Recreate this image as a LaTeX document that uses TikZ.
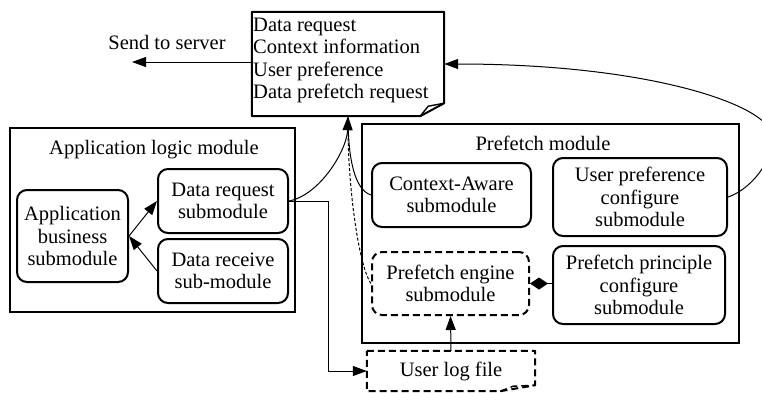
\documentclass[tikz,border=0pt]{standalone}
\usepackage{fontspec}
\setmainfont{Liberation Serif}
\usetikzlibrary{arrows.meta}
\begin{document}
\begin{tikzpicture}[x=1pt,y=-1pt,
  font=\fontsize{20.5}{22.5}\selectfont,
  module/.style={draw,line width=2pt,inner sep=0pt},
  sub/.style={draw,line width=2pt,rounded corners=10pt,align=center,inner sep=0pt},
  dsub/.style={sub,dash pattern=on 7pt off 4pt},
  plain/.style={inner sep=0pt},
  conn/.style={line width=1pt},
  tip/.style={-{Triangle[length=14pt,width=10pt]}},
  finedash/.style={dash pattern=on 3pt off 2pt},
]
\useasboundingbox (0,0) rectangle (762,392);

% modules
\node[module,minimum width=285pt,minimum height=184pt] (app) at (152.5,220) {};
\node[plain] (apptitle) at (154,150) {Application logic module};
\node[module,minimum width=377pt,minimum height=219pt] (pref) at (550.5,233.5) {};
\node[plain] (preftitle) at (543,143) {Prefetch module};

% submodules
\node[sub,minimum width=111pt,minimum height=92pt] (appbiz) at (72.5,236) {Application\\business\\submodule};
\node[sub,minimum width=130pt,minimum height=64pt] (dreq) at (223,201) {Data request\\submodule};
\node[sub,minimum width=130pt,minimum height=64pt] (drec) at (223,271) {Data receive\\sub-module};
\node[sub,minimum width=159pt,minimum height=64pt] (ctx) at (451.5,195) {Context-Aware\\submodule};
\node[sub,minimum width=174pt,minimum height=78pt] (upc) at (640,197) {User preference\\configure\\submodule};
\node[dsub,minimum width=157pt,minimum height=63pt] (eng) at (450.5,283.5) {Prefetch engine\\submodule};
\node[sub,minimum width=172pt,minimum height=78pt] (ppc) at (639,285) {Prefetch principle\\configure\\submodule};

% note (message) box
\node[plain,minimum width=192pt,minimum height=104pt] (note) at (348,64) {};
\draw[line width=2pt,line join=round]
  (note.north west) -- (note.north east) -- ([yshift=13pt]note.south east)
  -- ([xshift=-24pt]note.south east) -- (note.south west) -- cycle;
\draw[line width=1.4pt,line join=round]
  ([xshift=-24pt]note.south east) -- ([xshift=-16pt,yshift=10pt]note.south east)
  -- ([yshift=13pt]note.south east);
\node[plain,anchor=north west,align=left] (notetext) at (253,17.5)
  {Data request\\Context information\\User preference\\Data prefetch request};

% user log file
\node[plain,minimum width=168pt,minimum height=40pt] (log) at (451,371) {User log file};
\draw[line width=2pt,dash pattern=on 7pt off 4pt,line join=round]
  (log.north west) -- (log.north east) -- ([yshift=6pt]log.south east)
  -- ([xshift=-35pt]log.south east) -- (log.south west) -- cycle;
\draw[line width=1.4pt,dash pattern=on 7pt off 4pt]
  ([xshift=-35pt]log.south east) -- ([xshift=-22pt,yshift=5pt]log.south east)
  -- ([yshift=6pt]log.south east);

% send to server
\node[plain] (send) at (167,42) {Send to server};
\coordinate (sendtip) at (132,62);
\draw[conn,tip] ([yshift=2pt]note.west) -- (sendtip);

% connectors in application module
\draw[conn,tip] (appbiz.east) -- (dreq.west);
\draw[conn,tip] (drec.west) -- (appbiz.east);

% curves to note
\draw[conn] (ctx.west) .. controls (355,190) and (348,160) .. (note.south);
\draw[conn,finedash] (eng.west) .. controls (358,265) and (347,180) .. (note.south);
\draw[conn,tip] (dreq.east) .. controls (320,195) and (347,150) .. (note.south);
\draw[conn,tip] (upc.east) .. controls (750,190) and (775,160) .. (772,135)
  .. controls (768,105) and (650,64) .. (note.east);

% data request to user log file
\coordinate (bend) at (328,371);
\draw[conn,tip] (dreq.east) -| (bend) -- (log.west);

% log file to engine
\draw[conn,tip] (log.north) -- (eng.south);

% principle to engine (diamond)
\draw[conn,-{Diamond[length=18pt,width=12pt]}] (eng.east -| ppc.west) -- (eng.east);
\end{tikzpicture}
\end{document}
